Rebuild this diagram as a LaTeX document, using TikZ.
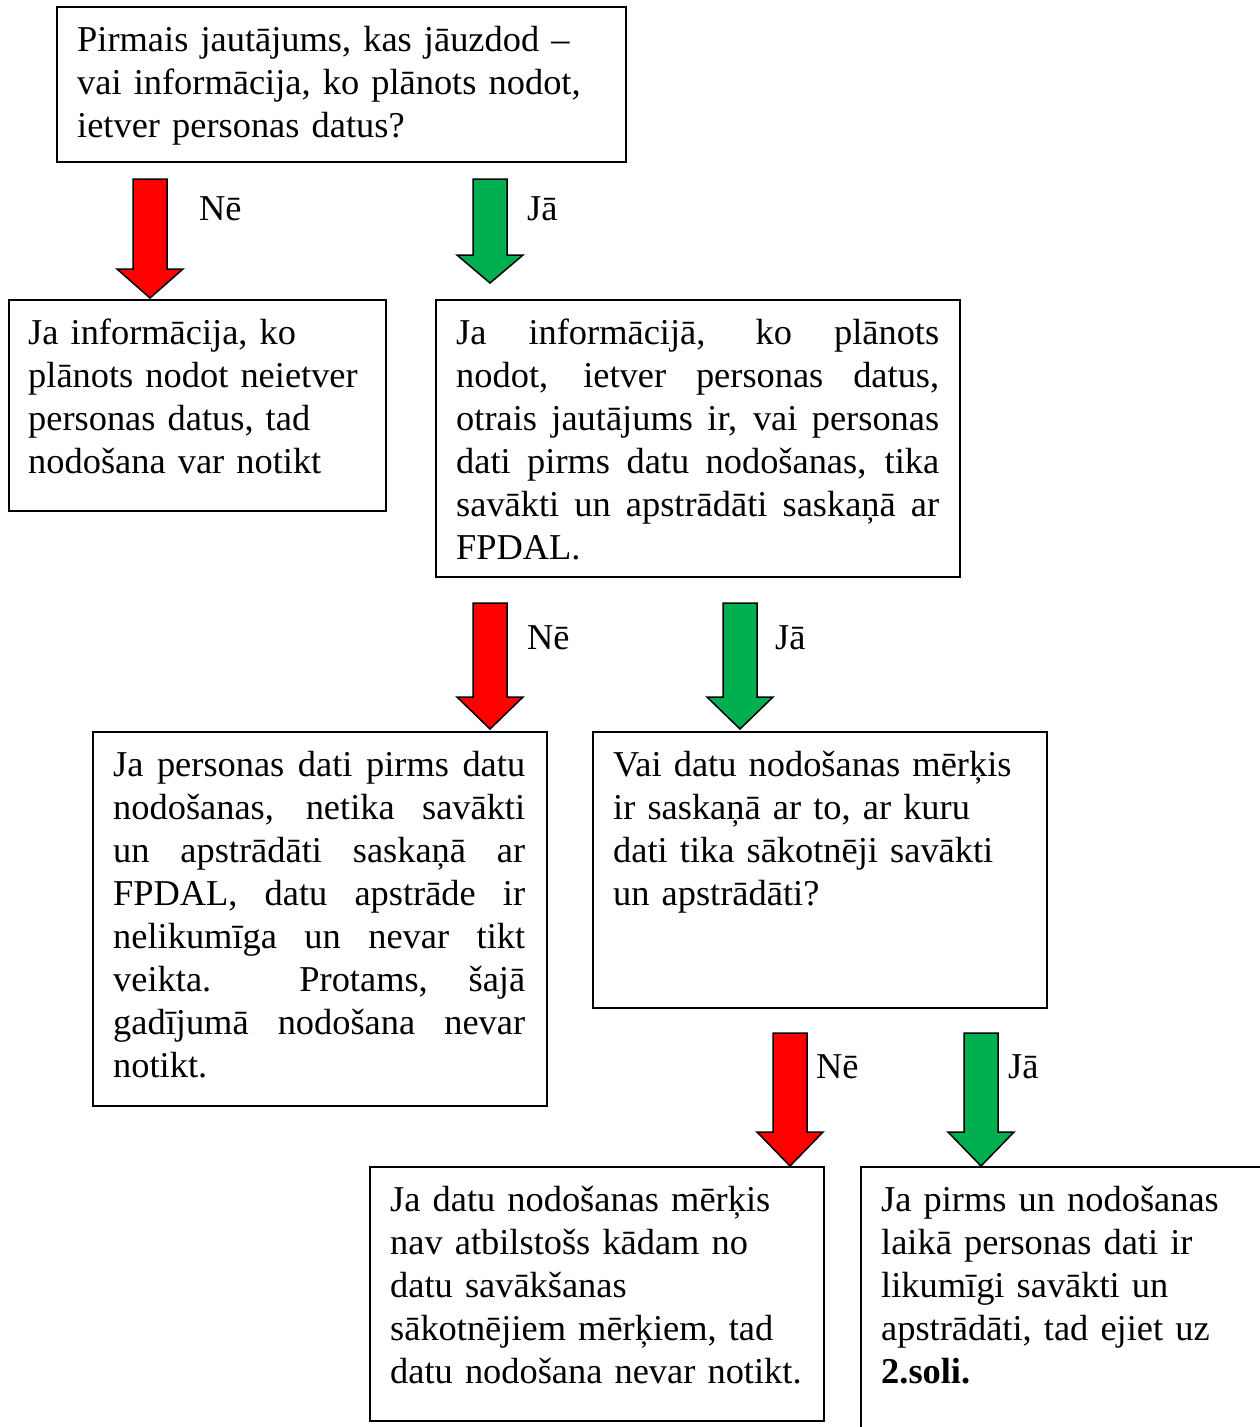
\documentclass[tikz,border=0pt]{standalone}
\usepackage{fontspec}
\setmainfont{Liberation Serif}
\usetikzlibrary{calc}
\definecolor{nored}{HTML}{FF0000}
\definecolor{yesgreen}{HTML}{00B050}
\tikzset{
  frame/.style={draw=black, line width=1.8pt, rectangle, inner sep=0pt, anchor=north west},
  body/.style={inner sep=0pt, anchor=north west, font=\fontsize{36.4}{43}\selectfont},
  lbody/.style={body, align=left},
  jbody/.style={body, align=justify},
  lab/.style={inner sep=0pt, anchor=base west, font=\fontsize{36.4}{43}\selectfont},
  fat/.style={draw=black, line width=1.5pt, line join=miter, fill=#1},
}
% #1 colour, #2 tip coordinate, #3 total length, #4 head length
\newcommand\fatarrow[4]{%
  \draw[fat=#1] ($(#2)+(-17,-#3)$) -- ($(#2)+(17,-#3)$) -- ($(#2)+(17,-#4)$)
    -- ($(#2)+(33,-#4)$) -- (#2) -- ($(#2)+(-33,-#4)$) -- ($(#2)+(-17,-#4)$) -- cycle;}
\begin{document}
\begin{tikzpicture}[x=1pt,y=-1pt]
\useasboundingbox (0,0) rectangle (1260,1427);
\clip (0,0) rectangle (1260,1427);
\fill[white] (0,0) rectangle (1260,1427);

% boxes
\node[frame, minimum width=569pt, minimum height=155pt] (a) at (56,6) {};
\node[frame, minimum width=377pt, minimum height=211pt] (b) at (8,299) {};
\node[frame, minimum width=524pt, minimum height=277pt] (c) at (435,299) {};
\node[frame, minimum width=454pt, minimum height=374pt] (d) at (92,731) {};
\node[frame, minimum width=454pt, minimum height=276pt] (e) at (592,731) {};
\node[frame, minimum width=454pt, minimum height=254pt] (f) at (369,1166) {};
\node[frame, minimum width=454pt, minimum height=300pt] (g) at (860,1166) {};

% texts
\node[lbody, text width=545pt] (ta) at ([xshift=21pt,yshift=-15pt]a.north west)
  {\strut Pirmais jautājums, kas jāuzdod –\\vai informācija, ko plānots nodot,\\ietver personas datus?};
\node[lbody, text width=355pt] (tb) at ([xshift=20pt,yshift=-15pt]b.north west)
  {\strut Ja informācija, ko\\plānots nodot neietver\\personas datus, tad\\nodošana var notikt};
\node[jbody, text width=483pt] (tc) at ([xshift=21pt,yshift=-15pt]c.north west)
  {\strut Ja informācijā, ko plānots\linebreak nodot, ietver personas datus,\linebreak otrais jautājums ir, vai personas\linebreak dati pirms datu nodošanas, tika\linebreak savākti un apstrādāti saskaņā ar\linebreak FPDAL.};
\node[jbody, text width=412pt] (td) at ([xshift=21pt,yshift=-15pt]d.north west)
  {\strut Ja personas dati pirms datu\linebreak nodošanas, netika savākti\linebreak un apstrādāti saskaņā ar\linebreak FPDAL, datu apstrāde ir\linebreak nelikumīga un nevar tikt\linebreak veikta. Protams, šajā\linebreak gadījumā nodošana nevar\linebreak notikt.};
\node[lbody, text width=430pt] (te) at ([xshift=21pt,yshift=-15pt]e.north west)
  {\strut Vai datu nodošanas mērķis\\ir saskaņā ar to, ar kuru\\dati tika sākotnēji savākti\\un apstrādāti?};
\node[lbody, text width=430pt] (tf) at ([xshift=21pt,yshift=-15pt]f.north west)
  {\strut Ja datu nodošanas mērķis\\nav atbilstošs kādam no\\datu savākšanas\\sākotnējiem mērķiem, tad\\datu nodošana nevar notikt.};
\node[lbody, text width=430pt] (tg) at ([xshift=21pt,yshift=-15pt]g.north west)
  {\strut Ja pirms un nodošanas\\laikā personas dati ir\\likumīgi savākti un\\apstrādāti, tad ejiet uz\\\textbf{2.soli.}};

% arrow tips
\coordinate (t1) at (150,298);
\coordinate (t2) at (490,283);
\coordinate (t3) at (490,729);
\coordinate (t4) at (740,729);
\coordinate (t5) at (790,1166);
\coordinate (t6) at (981,1166);

\fatarrow{nored}{t1}{119}{29}
\fatarrow{yesgreen}{t2}{104}{28}
\fatarrow{nored}{t3}{126}{32}
\fatarrow{yesgreen}{t4}{126}{32}
\fatarrow{nored}{t5}{133}{34}
\fatarrow{yesgreen}{t6}{133}{34}

% labels
\node[lab] (l1) at (199,220) {Nē};
\node[lab] (l2) at (527,220) {Jā};
\node[lab] (l3) at (527,649) {Nē};
\node[lab] (l4) at (775,649) {Jā};
\node[lab] (l5) at (816,1078) {Nē};
\node[lab] (l6) at (1008,1078) {Jā};
\end{tikzpicture}
\end{document}
